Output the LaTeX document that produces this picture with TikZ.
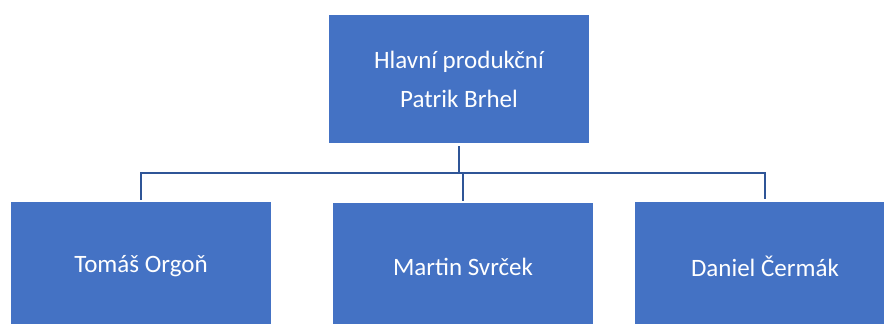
\documentclass[tikz,border=0pt]{standalone}
\usepackage{fontspec}
\setmainfont{Carlito}
\usetikzlibrary{positioning}
\definecolor{boxblue}{HTML}{4472C4}
\definecolor{lineblue}{HTML}{2F5597}

\begin{document}
\begin{tikzpicture}[
	x=1pt, y=-1pt,
	person/.style={fill=boxblue, text=white, minimum width=260pt, minimum height=128pt,
		inner sep=0pt, align=center, font=\fontsize{25}{39}\selectfont},
	link/.style={draw=lineblue, line width=2.4pt}
	]
	\useasboundingbox (0,0) rectangle (884,324);
	\clip (0,0) rectangle (884,324);
	\node[person] (HP) at (459,79) {Hlavní produkční\\Patrik Brhel};
	\node[person] (TO) at (141,266) {Tomáš Orgoň};
	\node[person] (MS) at (463,267) {Martin Svrček};
	\node[person] (DC) at (765,266) {Daniel Čermák};
	\coordinate (fork) at (459,173);
	\draw[link, shorten <=3pt] (HP.south) -- (fork);
	\draw[link, shorten <=2pt, shorten >=3pt] (TO.north) |- (fork) -| (DC.north);
	\draw[link, shorten >=2pt] (fork) -| (MS.north);
\end{tikzpicture}
\end{document}
